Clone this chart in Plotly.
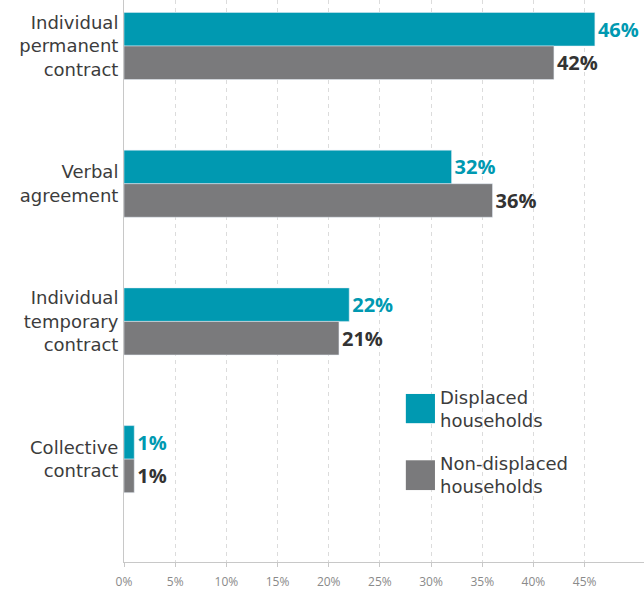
import plotly.graph_objects as go

categories = ["Individual<br>permanent<br>contract", "Verbal<br>agreement",
              "Individual<br>temporary<br>contract", "Collective<br>contract"]
displaced = [46, 32, 22, 1]
non_displaced = [42, 36, 21, 1]
tick_vals = [0, 5, 10, 15, 20, 25, 30, 35, 40, 45]
tick_text = [f"{v}%" for v in tick_vals]
series_names = ["Displaced<br>households", "Non-displaced<br>households"]

TEAL = "#0099b1"
GREY = "#7a7a7c"
DARK = "#333333"
LABEL = "#3c3c3c"
FONT = "Open Sans"
LFONT = "DejaVu Sans"

fig = go.Figure()
fig.add_trace(go.Bar(
    y=categories, x=displaced, orientation="h", marker_color=TEAL,
    text=[f"{v}%" for v in displaced], textposition="outside",
    textfont=dict(color=TEAL, size=20, family=FONT, weight="bold"),
    constraintext="none", cliponaxis=False, name="Displaced households"))
fig.add_trace(go.Bar(
    y=categories, x=non_displaced, orientation="h", marker_color=GREY,
    text=[f"{v}%" for v in non_displaced], textposition="outside",
    textfont=dict(color=DARK, size=20, family=FONT, weight="bold"),
    constraintext="none", cliponaxis=False, name="Non-displaced households"))

fig.update_layout(
    width=644, height=589, barmode="group", bargap=0.513, bargroupgap=0,
    showlegend=False, plot_bgcolor="white", paper_bgcolor="white",
    margin=dict(l=124, r=0, t=0, b=27, autoexpand=False),
    font=dict(family=FONT),
    xaxis=dict(range=[0, 50.8], tickvals=tick_vals, ticktext=tick_text,
               showgrid=True, gridcolor="#dcdcdc", griddash="4px,4px", gridwidth=1,
               zeroline=False, showline=True, linecolor="#c8c8c8", linewidth=1,
               ticks="outside", ticklen=4, tickcolor="#c8c8c8", automargin=False,
               tickfont=dict(size=12, color="#8a8a8a", family=FONT),
               ticklabelstandoff=5),
    yaxis=dict(range=[3.747, -0.334], showgrid=False, zeroline=False,
               showline=True, linecolor="#c8c8c8", linewidth=1, ticks="",
               automargin=False, ticklabelstandoff=1,
               tickfont=dict(size=18, color=LABEL, family=LFONT)),
)

# manual legend
for (y0, y1), col, name in [((0.247, 0.299), TEAL, series_names[0]),
                            ((0.128, 0.181), GREY, series_names[1])]:
    fig.add_shape(type="rect", xref="paper", yref="paper", x0=0.542, x1=0.598,
                  y0=y0, y1=y1, fillcolor=col, line=dict(width=0))
    fig.add_annotation(xref="paper", yref="paper", x=0.604, y=(y0 + y1) / 2,
                       text=name, showarrow=False, xanchor="left", align="left",
                       yanchor="middle",
                       font=dict(size=18, color=LABEL, family=LFONT))

fig.write_html("out.html", config={"displayModeBar": False},
               post_script="document.body.style.margin='0';")
